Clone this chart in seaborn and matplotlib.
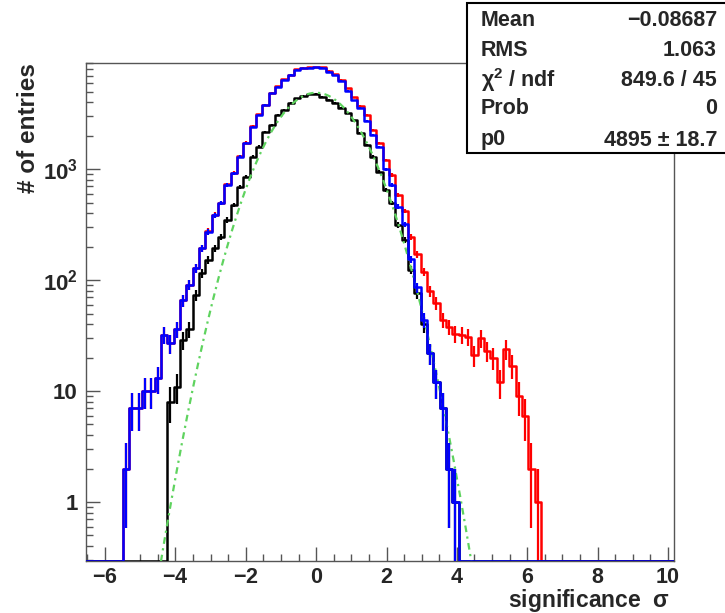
import numpy as np
import pandas as pd
import matplotlib
matplotlib.use("Agg")
import matplotlib.pyplot as plt
import seaborn as sns
from matplotlib.patches import Rectangle
from matplotlib.ticker import MultipleLocator, LogLocator, NullFormatter

# binning of the significance histograms
bin_start = -6.57
bin_width = 0.18
n_bins = 93

# bin contents (first non-empty bin index + contents)
red_first = 6
red_counts = [2, 7, 7, 10, 10, 13, 32, 27, 36, 66, 91, 128, 194, 276, 390, 498, 730, 930,
              1310, 1740, 2440, 3120, 3830, 4880, 5600, 6450, 7150, 7950, 8200, 8300, 8350,
              8300, 7700, 7200, 6400, 5370, 4450, 3700, 3090, 2260, 1715, 1210, 888, 590, 420,
              247, 172, 119, 80, 62, 44, 38, 33, 32, 31, 21, 30, 23, 20, 12, 24, 17, 9, 6, 2, 1]

blue_first = 6
blue_counts = [2, 7, 7, 10, 10, 13, 32, 27, 36, 66, 91, 128, 194, 274, 387, 494, 721, 920,
               1300, 1715, 2420, 3090, 3800, 4840, 5560, 6390, 7080, 7860, 8140, 8250, 8310,
               8200, 7600, 7050, 6300, 5100, 4180, 3600, 2750, 2050, 1580, 1000, 720, 460, 320,
               154, 86, 44, 22, 12, 7, 2, 1]

black_first = 13
black_counts = [8, 11, 29, 36, 73, 115, 152, 194, 247, 349, 476, 697, 857, 1300, 1600, 2180,
                2510, 3090, 3430, 3940, 4370, 4580, 4740, 4760, 4520, 4220, 3940, 3550, 3200,
                2790, 2110, 1660, 1300, 951, 650, 494, 315, 230, 124, 76, 40, 22, 12, 7, 2, 1]

# gaussian fit (mean 0, sigma 1 fixed), p0 from the stats box
fit_p0 = 4895

stat_names = ["Mean", "RMS", r"$\mathrm{\chi}^{\mathbf{2}}$ / ndf", "Prob", "p0"]
stat_values = ["\u22120.08687", "1.063", "849.6 / 45", "0", "4895 \u00b1 18.7"]

x_ticks = [-6, -4, -2, 0, 2, 4, 6, 8, 10]
y_ticks = [1, 10, 100, 1000]
y_tick_labels = ["1", "10", r"$\mathbf{10^{2}}$", r"$\mathbf{10^{3}}$"]


def full_hist(first, vals):
    arr = np.zeros(n_bins)
    arr[first:first + len(vals)] = vals
    return arr


sns.set_style("white")
plt.rcParams["font.family"] = ["Liberation Sans", "DejaVu Sans"]
plt.rcParams["font.weight"] = "bold"
plt.rcParams["mathtext.fontset"] = "custom"
plt.rcParams["mathtext.rm"] = "Liberation Sans"
plt.rcParams["mathtext.bf"] = "Liberation Sans:bold"
plt.rcParams["mathtext.it"] = "Liberation Sans:italic"

edges = bin_start + bin_width * np.arange(n_bins + 1)
centers = edges[:-1] + bin_width / 2

x_lo, x_hi = -6.54, 10.17
y_lo, y_hi = 0.294, 9080

fig = plt.figure(figsize=(7.25, 6.13), dpi=100)
ax = fig.add_axes([86 / 725, 52 / 613, 588 / 725, 498 / 613])

series = [
    (full_hist(red_first, red_counts), "#ff0000", 2),
    (full_hist(black_first, black_counts), "#000000", 3),
    (full_hist(blue_first, blue_counts), "#0000ff", 5),
]

for vals, color, z in series:
    # empty bins sit on the bottom of the frame, like ROOT draws them
    df = pd.DataFrame({"sig": centers, "n": np.where(vals > 0, vals, y_lo * 1.01)})
    sns.histplot(data=df, x="sig", weights="n", bins=list(edges), element="step",
                 fill=False, color=color, linewidth=1.8, zorder=z, ax=ax)
    mask = vals > 0
    err = np.sqrt(vals[mask])
    ax.vlines(centers[mask], np.clip(vals[mask] - err, 1e-3, None), vals[mask] + err,
              color=color, linewidth=1.6, zorder=z)

# fitted function
fit_x = np.linspace(x_lo, x_hi, 800)
fit_y = fit_p0 * np.exp(-0.5 * fit_x ** 2)
sns.lineplot(x=fit_x, y=fit_y, color="#5fd35f", linewidth=1.6,
             linestyle=(0, (3, 2, 1, 2)), zorder=4, ax=ax)

ax.set_yscale("log")
ax.set_xlim(x_lo, x_hi)
ax.set_ylim(y_lo, y_hi)

ax.set_xticks(x_ticks)
ax.set_xticklabels([r"$\mathbf{%d}$" % t for t in x_ticks])
ax.xaxis.set_minor_locator(MultipleLocator(0.5))
ax.set_yticks(y_ticks)
ax.set_yticklabels(y_tick_labels)
ax.yaxis.set_minor_locator(LogLocator(base=10, subs=np.arange(2, 10)))
ax.yaxis.set_minor_formatter(NullFormatter())

ax.tick_params(which="both", bottom=True, left=True, top=False, right=False,
               direction="in", width=1, color="#555555")
ax.tick_params(which="major", length=10, labelsize=15.5, pad=4)
ax.tick_params(axis="y", which="major", labelsize=16, pad=6)
ax.tick_params(which="minor", length=5)
for sp in ax.spines.values():
    sp.set_color("#555555")
    sp.set_linewidth(1.0)

ax.set_xlabel(r"significance  $\mathrm{\sigma}$", fontsize=16.5, fontweight="bold",
              ha="right", va="baseline")
ax.xaxis.set_label_coords(0.993, -0.0924)
ax.set_ylabel("# of entries", fontsize=17.5, fontweight="bold", ha="right", va="bottom")
ax.yaxis.set_label_coords(-0.078, 1.0)

# stats box
box = Rectangle((467 / 725, 1 - 153 / 613), 0.5, 150 / 613, transform=fig.transFigure,
                facecolor="white", edgecolor="black", linewidth=1.5, zorder=10)
fig.add_artist(box)
row_y = [20, 50, 80, 109, 140]
for name, val, yy in zip(stat_names, stat_values, row_y):
    fig.text(481 / 725, 1 - yy / 613, name, ha="left", va="center", fontsize=15.5,
             fontweight="bold", zorder=11)
    fig.text(717 / 725, 1 - yy / 613, val, ha="right", va="center", fontsize=15.5,
             fontweight="bold", zorder=11)

fig.savefig("out.png", dpi=100)
